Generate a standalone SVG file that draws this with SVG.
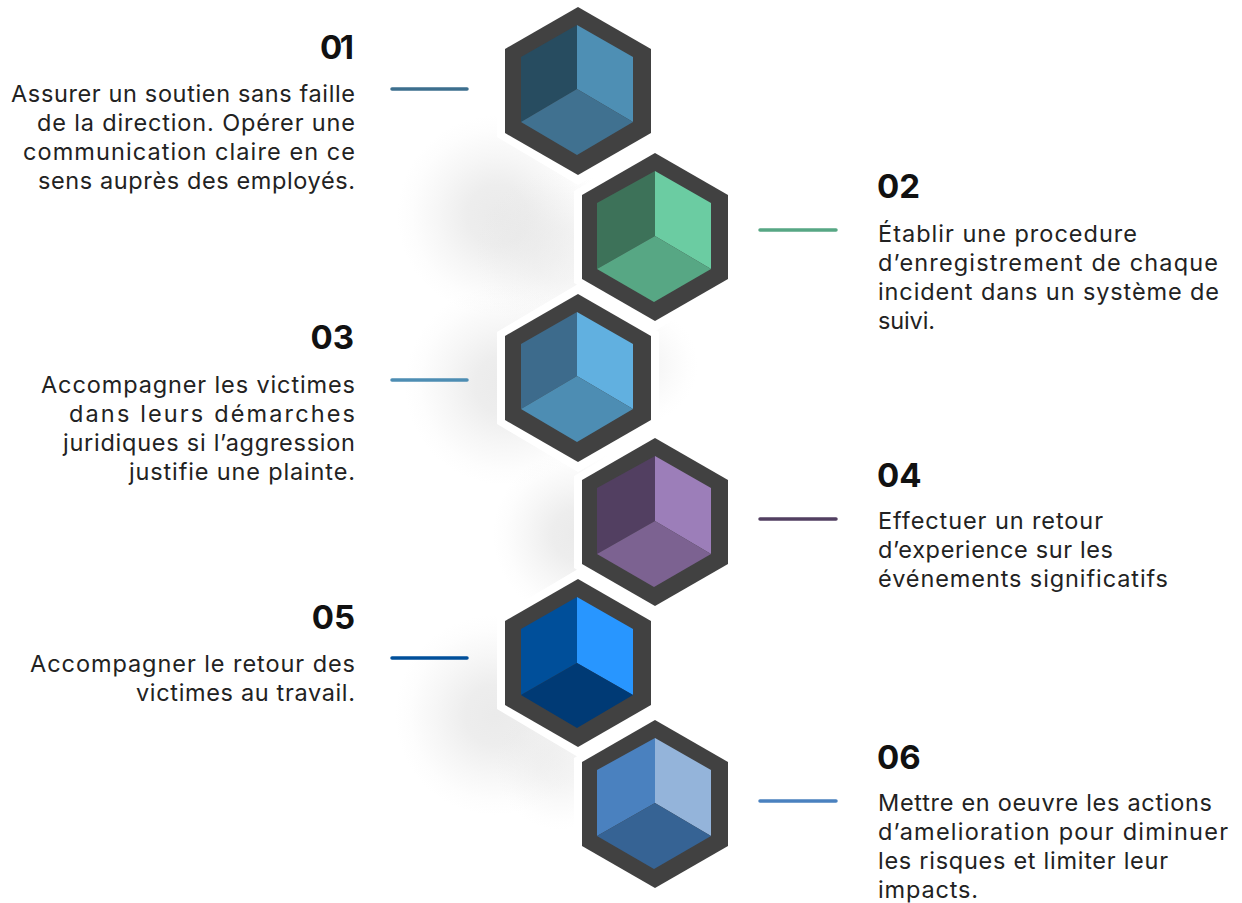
<svg xmlns="http://www.w3.org/2000/svg" width="1242" height="903" viewBox="0 0 1242 903">
<defs>
<radialGradient id="sh"><stop offset="0" stop-color="#ddd" stop-opacity=".6"/><stop offset="0.3" stop-color="#ddd" stop-opacity=".52"/><stop offset="0.6" stop-color="#ddd" stop-opacity=".25"/><stop offset="0.85" stop-color="#ddd" stop-opacity=".06"/><stop offset="1" stop-color="#ddd" stop-opacity="0"/></radialGradient>
<polygon id="halo" points="-81,-46 0,-94 81,-46 81,46 0,94 -81,46"/>
<polygon id="hex" points="0,-84 73,-42 73,42 0,84 -73,42 -73,-42"/>
</defs>
<style>
.h{fill:#414141}.w{fill:#fff}
.n{font:700 33px Inter,"Liberation Sans",sans-serif;fill:#111}
.t{font:400 23.5px Inter,"Liberation Sans",sans-serif;fill:#222}
.e{text-anchor:end}
.c{stroke-width:3.5;stroke-linecap:round;fill:none}
</style>
<rect width="1242" height="903" fill="#fff"/>
<g id="shadows">
<circle cx="497" cy="215" r="100" fill="url(#sh)"/>
<circle cx="560" cy="255" r="85" fill="url(#sh)" opacity=".6"/>
<circle cx="505" cy="385" r="100" fill="url(#sh)"/>
<circle cx="640" cy="365" r="58" fill="url(#sh)" opacity=".5"/>
<circle cx="578" cy="535" r="85" fill="url(#sh)"/>
<circle cx="495" cy="715" r="100" fill="url(#sh)"/>
<circle cx="560" cy="765" r="65" fill="url(#sh)" opacity=".6"/>
</g>
<g id="connectors">
<line class="c" x1="392" y1="89" x2="467" y2="89" stroke="#3d6f8e"/>
<line class="c" x1="760" y1="230" x2="836" y2="230" stroke="#57a784"/>
<line class="c" x1="392" y1="380" x2="467" y2="380" stroke="#4d8db3"/>
<line class="c" x1="760" y1="519" x2="836" y2="519" stroke="#523f61"/>
<line class="c" x1="392" y1="658" x2="467" y2="658" stroke="#004f9a"/>
<line class="c" x1="760" y1="801" x2="836" y2="801" stroke="#4a81bf"/>
</g>
<g id="node-01" transform="translate(578 91)"><use href="#halo" class="w"/><use href="#hex" class="h"/>
<polygon points="-1,-66 -57,-34 -57,31 -1,-2" fill="#274c60"/><polygon points="-1,-66 55,-34 55,31 -1,-2" fill="#4e8fb4"/><polygon points="-1,-2 55,31 -1,64 -57,31" fill="#407190"/></g>
<g id="node-02" transform="translate(655 237)"><use href="#halo" class="w"/><use href="#hex" class="h"/>
<polygon points="0,-66 -58,-34 -58,32 0,-1" fill="#3d7259"/><polygon points="0,-66 56,-34 56,32 0,-1" fill="#6bcca2"/><polygon points="0,-1 56,32 -1,65 -58,32" fill="#57a784"/></g>
<g id="node-03" transform="translate(578 378)"><use href="#halo" class="w"/><use href="#hex" class="h"/>
<polygon points="-1,-66 -57,-34 -57,31 -1,-2" fill="#3d6b8c"/><polygon points="-1,-66 55,-34 55,31 -1,-2" fill="#61b0e0"/><polygon points="-1,-2 55,31 -1,64 -57,31" fill="#4d8db3"/></g>
<g id="node-04" transform="translate(655 522)"><use href="#halo" class="w"/><use href="#hex" class="h"/>
<polygon points="0,-66 -58,-34 -58,32 0,-1" fill="#523f61"/><polygon points="0,-66 56,-34 56,32 0,-1" fill="#9c7eb9"/><polygon points="0,-1 56,32 -1,65 -58,32" fill="#7c6291"/></g>
<g id="node-05" transform="translate(578 663)"><use href="#halo" class="w"/><use href="#hex" class="h"/>
<polygon points="-1,-66 -57,-34 -57,32 -1,0" fill="#004f9a"/><polygon points="-1,-66 55,-34 55,32 -1,0" fill="#2896ff"/><polygon points="-1,0 55,32 -1,65 -57,32" fill="#003a75"/></g>
<g id="node-06" transform="translate(655 804)"><use href="#halo" class="w"/><use href="#hex" class="h"/>
<polygon points="0,-66 -58,-34 -58,32 0,-1" fill="#4a81bf"/><polygon points="0,-66 56,-34 56,32 0,-1" fill="#94b4da"/><polygon points="0,-1 56,32 -1,65 -58,32" fill="#366394"/></g>
<g id="labels">
<text class="n e" x="354" y="59" textLength="34">01</text>
<text class="t e" x="355" y="102" textLength="344">Assurer un soutien sans faille</text>
<text class="t e" x="355" y="131" textLength="318">de la direction. Opérer une</text>
<text class="t e" x="355" y="160" textLength="332">communication claire en ce</text>
<text class="t e" x="355" y="189" textLength="317">sens auprès des employés.</text>
<text class="n" x="877" y="198">02</text>
<text class="t" x="878" y="242" textLength="259">Établir une procedure</text>
<text class="t" x="878" y="271" textLength="340">d’enregistrement de chaque</text>
<text class="t" x="878" y="300" textLength="341">incident dans un système de</text>
<text class="t" x="878" y="329" textLength="57">suivi.</text>
<text class="n e" x="354" y="349">03</text>
<text class="t e" x="355" y="393" textLength="314">Accompagner les victimes</text>
<text class="t e" x="355" y="422" textLength="286">dans leurs démarches</text>
<text class="t e" x="355" y="451" textLength="292">juridiques si l’aggression</text>
<text class="t e" x="355" y="480" textLength="226">justifie une plainte.</text>
<text class="n" x="877" y="487">04</text>
<text class="t" x="878" y="529" textLength="225">Effectuer un retour</text>
<text class="t" x="878" y="558" textLength="235">d’experience sur les</text>
<text class="t" x="878" y="587" textLength="290">événements significatifs</text>
<text class="n e" x="355" y="629">05</text>
<text class="t e" x="355" y="672" textLength="325">Accompagner le retour des</text>
<text class="t e" x="355" y="701" textLength="219">victimes au travail.</text>
<text class="n" x="877" y="769">06</text>
<text class="t" x="878" y="811" textLength="334">Mettre en oeuvre les actions</text>
<text class="t" x="878" y="840" textLength="350">d’amelioration pour diminuer</text>
<text class="t" x="878" y="869" textLength="290">les risques et limiter leur</text>
<text class="t" x="878" y="898" textLength="100">impacts.</text>
</g>
</svg>
